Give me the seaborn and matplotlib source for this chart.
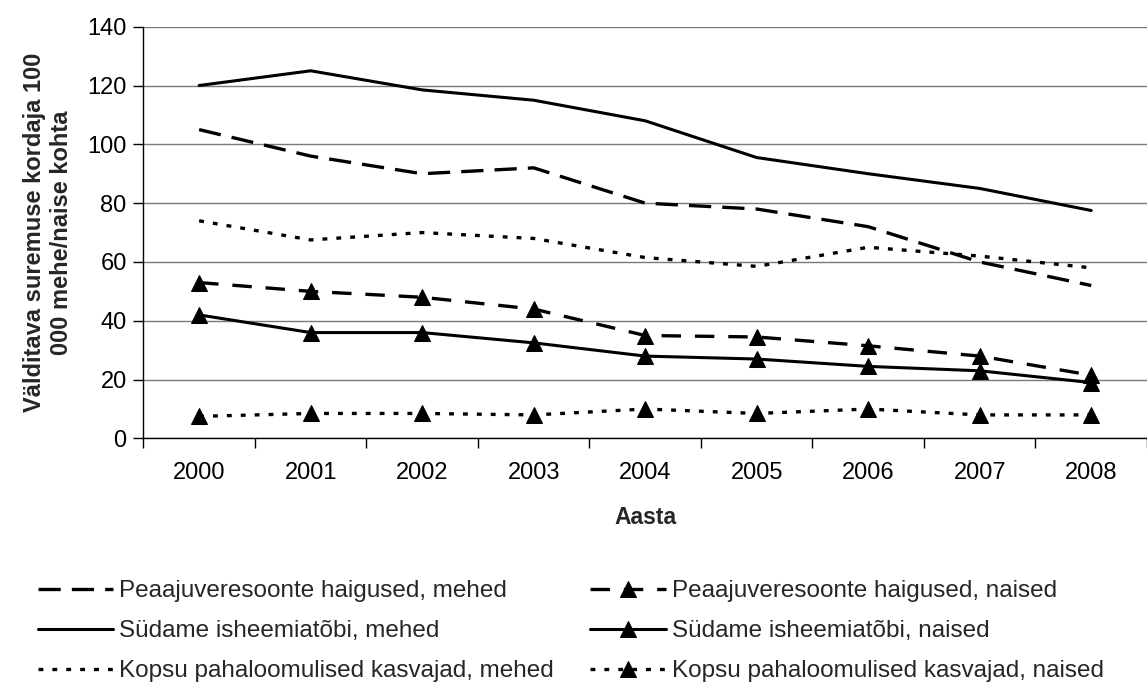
import numpy as np
import pandas as pd
import matplotlib
matplotlib.use("Agg")
import matplotlib.pyplot as plt
import seaborn as sns

years = ["2000", "2001", "2002", "2003", "2004", "2005", "2006", "2007", "2008"]

peaaju_mehed = [105, 96, 90, 92, 80, 78, 72, 60, 52]
sudame_mehed = [120, 125, 118.5, 115, 108, 95.5, 90, 85, 77.5]
kopsu_mehed = [74, 67.5, 70, 68, 61.5, 58.5, 65, 62, 58]
peaaju_naised = [53, 50, 48, 44, 35, 34.5, 31.5, 28, 21.5]
sudame_naised = [42, 36, 36, 32.5, 28, 27, 24.5, 23, 19]
kopsu_naised = [7.5, 8.5, 8.5, 8, 10, 8.5, 10, 8, 8]

labels = [
    "Peaajuveresoonte haigused, mehed",
    "Südame isheemiatõbi, mehed",
    "Kopsu pahaloomulised kasvajad, mehed",
    "Peaajuveresoonte haigused, naised",
    "Südame isheemiatõbi, naised",
    "Kopsu pahaloomulised kasvajad, naised",
]
series = [peaaju_mehed, sudame_mehed, kopsu_mehed, peaaju_naised, sudame_naised, kopsu_naised]

sns.set_theme(style="white")
plt.rcParams['font.family'] = ['Liberation Sans', 'DejaVu Sans']
plt.rcParams['lines.scale_dashes'] = False

long_dash = (0, (16, 8))
mid_dash = (0, (14, 10))
dots = (0, (3.5, 6.5))
styles = [
    dict(linestyle=long_dash, marker=None, lw=2.4),
    dict(linestyle="-", marker=None, lw=2.2),
    dict(linestyle=dots, marker=None, lw=2.4),
    dict(linestyle=mid_dash, marker="^", lw=2.4),
    dict(linestyle="-", marker="^", lw=2.2),
    dict(linestyle=dots, marker="^", lw=2.4),
]

fig = plt.figure(figsize=(11.47, 6.84), dpi=100)
ax = fig.add_axes([0.125, 0.359, 0.875, 0.602])

x = np.arange(len(years))
for lab, vals, st in zip(labels, series, styles):
    df = pd.DataFrame({"x": x, "y": vals})
    sns.lineplot(data=df, x="x", y="y", ax=ax, color="black",
                 linestyle=st["linestyle"], linewidth=st["lw"],
                 marker=st["marker"], markersize=11, markeredgecolor="black",
                 markerfacecolor="black", label=lab, legend=False)

ax.set_xlim(-0.5, len(years) - 0.5)
ax.set_ylim(0, 140)
ax.set_yticks(np.arange(0, 141, 20))
ax.set_xticks(x)
ax.set_xticklabels(years)
ax.set_xticks(np.arange(-0.5, len(years) - 0.4, 1), minor=True)
ax.tick_params(axis="x", which="major", length=0, labelsize=17, pad=17, colors="black")
ax.tick_params(axis="x", which="minor", length=7, width=1, bottom=True, color="black")
ax.tick_params(axis="y", which="major", length=7, width=1, left=True, labelsize=17,
               pad=5, colors="black")

ax.grid(axis="y", color="#7a7a7a", linewidth=1)
ax.grid(axis="x", visible=False)
for s in ["top", "right"]:
    ax.spines[s].set_visible(False)
for s in ["left", "bottom"]:
    ax.spines[s].set_color("black")
    ax.spines[s].set_linewidth(1)

ax.set_xlabel("Aasta", fontsize=16.5, fontweight="bold", labelpad=16)
ax.set_ylabel("Välditava suremuse kordaja 100\n000 mehe/naise kohta", fontsize=17,
              fontweight="bold", labelpad=10, linespacing=1.25)

h, l = ax.get_legend_handles_labels()
fig.legend(h, l, loc="lower left", bbox_to_anchor=(0.018, -0.022), ncol=2, frameon=False,
           fontsize=17.5, handlelength=3.1, columnspacing=1.5, labelspacing=0.74,
           handletextpad=0.25, borderpad=0.2)

fig.savefig("out.png", dpi=100, facecolor="white")
